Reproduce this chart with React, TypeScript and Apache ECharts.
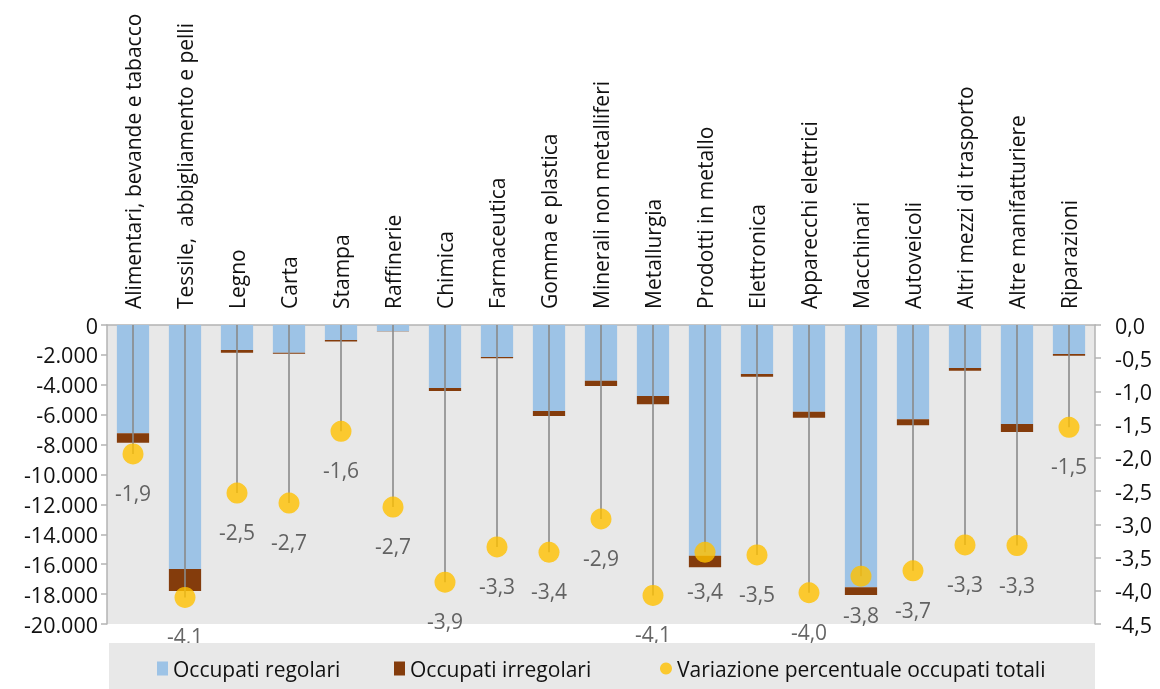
import React, { useEffect, useRef } from "react";
import * as echarts from "echarts";

const categories = [
  "Alimentari, bevande e tabacco",
  "Tessile,  abbigliamento e pelli",
  "Legno",
  "Carta",
  "Stampa",
  "Raffinerie",
  "Chimica",
  "Farmaceutica",
  "Gomma e plastica",
  "Minerali non metalliferi",
  "Metallurgia",
  "Prodotti in metallo",
  "Elettronica",
  "Apparecchi elettrici",
  "Macchinari",
  "Autoveicoli",
  "Altri mezzi di trasporto",
  "Altre manifatturiere",
  "Riparazioni",
];

const occupatiRegolari = [
  -7245, -16320, -1670, -1850, -1000, -420, -4210, -2140, -5750, -3725,
  -4750, -15430, -3280, -5800, -17545, -6310, -2875, -6620, -1940,
];

const occupatiIrregolari = [
  -630, -1470, -180, -70, -110, -20, -200, -90, -335, -355,
  -555, -775, -180, -400, -515, -400, -180, -535, -110,
];

const variazionePercentuale = [
  -1.94, -4.1, -2.53, -2.68, -1.6, -2.74, -3.87, -3.34, -3.42, -2.92,
  -4.07, -3.42, -3.46, -4.03, -3.78, -3.7, -3.31, -3.32, -1.54,
];

const FONT = "Open Sans";

function fmtThousands(v: number): string {
  if (v === 0) return "0";
  const s = Math.abs(v).toFixed(0).replace(/\B(?=(\d{3})+(?!\d))/g, ".");
  return (v < 0 ? "-" : "") + s;
}

function fmtDec(v: number): string {
  return v.toFixed(1).replace(".", ",");
}

export default function App() {
  const ref = useRef<HTMLDivElement>(null);

  useEffect(() => {
    if (!ref.current) return;
    const chart = echarts.init(ref.current, undefined, { renderer: "svg" });

    const legendText = { fontFamily: FONT, fontSize: 21, color: "#111111" };

    chart.setOption({
      animation: false,
      textStyle: { fontFamily: FONT },
      grid: {
        left: 107,
        right: 65,
        top: 325,
        bottom: 65,
        show: true,
        backgroundColor: "#e8e8e8",
        borderWidth: 0,
      },
      graphic: [
        {
          type: "rect",
          z: 50,
          silent: true,
          shape: { x: 109, y: 643, width: 986, height: 46 },
          style: { fill: "#e8e8e8" },
        },
      ],
      legend: [
        {
          z: 60,
          left: 152,
          top: 653,
          itemWidth: 11,
          itemHeight: 14,
          itemGap: 0,
          textStyle: legendText,
          data: [{ name: "Occupati regolari", icon: "rect" }],
        },
        {
          z: 60,
          left: 389,
          top: 653,
          itemWidth: 11,
          itemHeight: 14,
          itemGap: 0,
          textStyle: legendText,
          data: [{ name: "Occupati irregolari", icon: "rect" }],
        },
        {
          z: 60,
          left: 655,
          top: 653,
          itemWidth: 12,
          itemHeight: 14,
          itemGap: 0,
          textStyle: legendText,
          data: [{ name: "Variazione percentuale occupati totali", icon: "circle" }],
        },
      ],
      xAxis: {
        type: "category",
        position: "top",
        data: categories,
        axisLine: { show: true, lineStyle: { color: "#b3b3b3", width: 1.5 } },
        axisTick: { show: false },
        axisLabel: {
          rotate: 90,
          margin: 16,
          interval: 0,
          fontFamily: FONT,
          fontSize: 21,
          color: "#111111",
        },
      },
      yAxis: [
        {
          type: "value",
          min: -20000,
          max: 0,
          interval: 2000,
          position: "left",
          axisLine: { show: true, lineStyle: { color: "#b3b3b3", width: 1.5 } },
          axisTick: { show: true, length: 6, lineStyle: { color: "#b3b3b3", width: 1.5 } },
          splitLine: { show: false },
          axisLabel: {
            margin: 9,
            fontFamily: FONT,
            fontSize: 21.5,
            color: "#111111",
            formatter: (v: number) => fmtThousands(v),
          },
        },
        {
          type: "value",
          min: -4.5,
          max: 0,
          interval: 0.5,
          position: "right",
          axisLine: { show: true, lineStyle: { color: "#b3b3b3", width: 1.5 } },
          axisTick: { show: true, length: 6, lineStyle: { color: "#b3b3b3", width: 1.5 } },
          splitLine: { show: false },
          axisLabel: {
            margin: 20,
            fontFamily: FONT,
            fontSize: 21.5,
            color: "#111111",
            formatter: (v: number) => fmtDec(v),
          },
        },
      ],
      series: [
        {
          name: "Occupati regolari",
          type: "bar",
          stack: "occ",
          barWidth: "62%",
          itemStyle: { color: "#9dc3e6" },
          data: occupatiRegolari,
          z: 2,
        },
        {
          name: "Occupati irregolari",
          type: "bar",
          stack: "occ",
          barWidth: "62%",
          itemStyle: { color: "#843c0c" },
          data: occupatiIrregolari,
          z: 2,
        },
        {
          name: "drop",
          type: "custom",
          yAxisIndex: 1,
          z: 3,
          silent: true,
          data: variazionePercentuale.map((v, i) => [i, v]),
          renderItem: (params: any, api: any) => {
            const i = api.value(0);
            const v = api.value(1);
            const p0 = api.coord([i, 0]);
            const p1 = api.coord([i, v]);
            return {
              type: "line",
              shape: { x1: p0[0], y1: p0[1], x2: p1[0], y2: p1[1] },
              style: { stroke: "#8a8a8a", lineWidth: 1.6 },
            };
          },
        },
        {
          name: "Variazione percentuale occupati totali",
          type: "scatter",
          yAxisIndex: 1,
          z: 4,
          symbol: "circle",
          symbolSize: 21,
          itemStyle: { color: "#ffc000" },
          data: variazionePercentuale,
          label: {
            show: true,
            position: "bottom",
            distance: 18,
            fontFamily: FONT,
            fontSize: 21,
            color: "#404040",
            formatter: (p: any) => fmtDec(p.value as number),
          },
        },
      ],
    });

    return () => chart.dispose();
  }, []);

  return (
    <div
      ref={ref}
      style={{ position: "fixed", left: 0, top: 0, width: 1160, height: 689 }}
    />
  );
}
